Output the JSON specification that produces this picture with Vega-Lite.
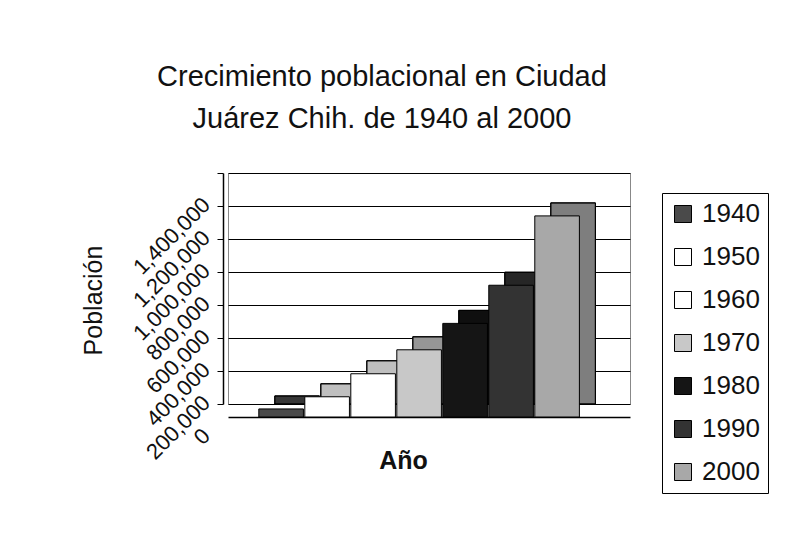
{
  "$schema": "https://vega.github.io/schema/vega-lite/v6.json",
  "width": 402,
  "height": 231,
  "autosize": {"type": "none"},
  "padding": {"left": 228, "top": 173, "right": 173, "bottom": 145},
  "background": "white",
  "title": {
    "text": ["Crecimiento poblacional en Ciudad", "Juárez Chih. de 1940 al 2000"],
    "font": "Liberation Sans",
    "fontSize": 29,
    "fontWeight": "normal",
    "color": "#111111",
    "anchor": "middle",
    "frame": "group",
    "dx": -47,
    "offset": 39,
    "lineHeight": 42
  },
  "data": {
    "values": [
      {"Año": "1940", "Población": 48881},
      {"Año": "1950", "Población": 122566},
      {"Año": "1960", "Población": 262119},
      {"Año": "1970", "Población": 407370},
      {"Año": "1980", "Población": 567365},
      {"Año": "1990", "Población": 798499},
      {"Año": "2000", "Población": 1218817}
    ]
  },
  "encoding": {
    "x": {
      "field": "Año",
      "type": "nominal",
      "sort": null,
      "scale": {"paddingInner": 0.03, "paddingOuter": 0.885, "align": 0.575},
      "axis": {
        "labels": false,
        "ticks": false,
        "domain": true,
        "domainColor": "#000000",
        "domainWidth": 1.5,
        "offset": 13,
        "title": "Año",
        "titleFont": "Liberation Sans",
        "titleFontSize": 25,
        "titleFontWeight": "bold",
        "titleColor": "#111111",
        "titleX": 175,
        "titleY": 51,
        "titleBaseline": "alphabetic"
      }
    },
    "y": {
      "field": "Población",
      "type": "quantitative",
      "scale": {"domain": [0, 1400000], "nice": false},
      "axis": {
        "values": [0, 200000, 400000, 600000, 800000, 1000000, 1200000, 1400000],
        "format": ",d",
        "offset": 5,
        "labelAngle": -45,
        "labelAlign": "right",
        "labelBaseline": "middle",
        "labelOffset": 28,
        "labelPadding": 11,
        "labelFont": "Liberation Sans",
        "labelFontSize": 22,
        "labelColor": "#111111",
        "labelOverlap": false,
        "grid": true,
        "gridColor": "#000000",
        "gridWidth": 1,
        "domainColor": "#000000",
        "domainWidth": 1.5,
        "tickColor": "#000000",
        "tickSize": 6,
        "title": "Población",
        "titleFont": "Liberation Sans",
        "titleFontSize": 25,
        "titleFontWeight": "normal",
        "titleColor": "#111111",
        "titleX": -130,
        "titleY": 127,
        "titleAlign": "center",
        "titleBaseline": "middle",
        "titleAngle": -90
      }
    },
    "color": {
      "field": "Año",
      "type": "nominal",
      "scale": {
        "domain": ["1940", "1950", "1960", "1970", "1980", "1990", "2000"],
        "range": ["#4a4a4a", "#ffffff", "#ffffff", "#c8c8c8", "#151515", "#333333", "#a8a8a8"]
      },
      "legend": {
        "orient": "none",
        "legendX": 434,
        "legendY": 20,
        "title": null,
        "symbolType": "square",
        "symbolSize": 289,
        "symbolStrokeColor": "#000000",
        "symbolStrokeWidth": 1,
        "labelFont": "Liberation Sans",
        "labelFontSize": 26,
        "labelColor": "#111111",
        "labelOffset": 6,
        "rowPadding": 17,
        "padding": 8,
        "strokeColor": "#000000"
      }
    }
  },
  "layer": [
    {
      "mark": {"type": "bar", "stroke": "#000000", "strokeWidth": 1}
    },
    {
      "mark": {"type": "bar", "fillOpacity": 0.25, "stroke": "#000000", "strokeWidth": 1},
      "encoding": {"color": {"value": "#000000"}}
    },
    {
      "mark": {"type": "bar", "xOffset": -16, "yOffset": 13, "stroke": "#000000", "strokeWidth": 1}
    }
  ],
  "config": {
    "font": "Liberation Sans",
    "view": {"stroke": "#888888"}
  }
}
